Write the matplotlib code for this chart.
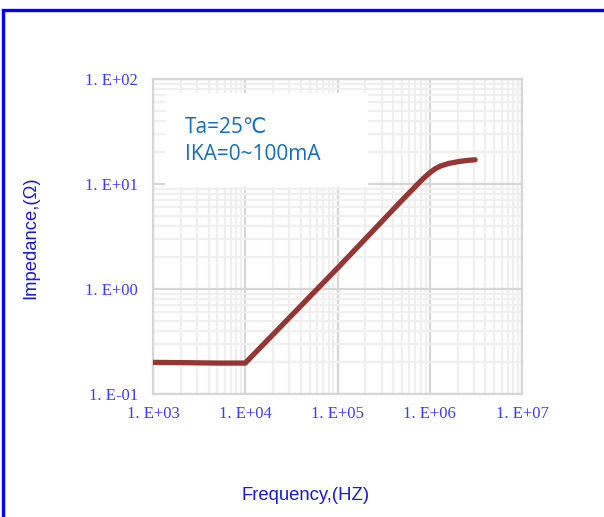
import matplotlib
matplotlib.use("Agg")
import matplotlib.pyplot as plt
from matplotlib.patches import Rectangle
from matplotlib.ticker import FixedLocator, NullFormatter, LogLocator

# Data
freq_hz = [1e3, 2e3, 5e3, 1e4, 1e5, 5e5, 8e5, 9e5, 1e6, 1.15e6, 1.3e6, 1.6e6, 2.1e6, 2.6e6, 3.1e6]
impedance_ohm = [0.200, 0.199, 0.197, 0.197, 1.58, 7.0, 10.7, 11.8, 12.8, 14.0, 14.8, 15.7, 16.4, 16.8, 17.0]
x_ticks = [1e3, 1e4, 1e5, 1e6, 1e7]
x_tick_labels = ["1. E+03", "1. E+04", "1. E+05", "1. E+06", "1. E+07"]
y_ticks = [1e-1, 1e0, 1e1, 1e2]
y_tick_labels = ["1. E-01", "1. E+00", "1. E+01", "1. E+02"]
note_lines = ["Ta=25℃", "IKA=0~100mA"]
x_label = "Frequency,(HZ)"
y_label = "Impedance,(Ω)"

W, H = 604, 517
fig = plt.figure(figsize=(W / 100, H / 100), dpi=100)

# blue frame
fig.patches.append(Rectangle((3 / W, -0.1), 1.2, 1 - 10 / H + 0.1, transform=fig.transFigure,
                             fill=False, edgecolor="#0000ff", linewidth=2.4))

ax = fig.add_axes([153 / W, 1 - 394 / H, 369 / W, 315 / H])
ax.set_xscale("log")
ax.set_yscale("log")
ax.set_xlim(1e3, 1e7)
ax.set_ylim(1e-1, 1e2)

ax.xaxis.set_major_locator(FixedLocator(x_ticks))
ax.yaxis.set_major_locator(FixedLocator(y_ticks))
ax.xaxis.set_minor_locator(LogLocator(base=10, subs=range(2, 10)))
ax.yaxis.set_minor_locator(LogLocator(base=10, subs=range(2, 10)))
ax.xaxis.set_minor_formatter(NullFormatter())
ax.yaxis.set_minor_formatter(NullFormatter())
ax.set_xticklabels(x_tick_labels)
ax.set_yticklabels(y_tick_labels)

ax.grid(which="minor", color="#efefef", linewidth=1.6)
ax.grid(which="major", color="#d6d6d6", linewidth=1.6)
ax.set_axisbelow(True)
for s in ax.spines.values():
    s.set_color("#d6d6d6")
    s.set_linewidth(1.6)
ax.tick_params(which="both", length=0)
ax.tick_params(axis="x", pad=9)
ax.tick_params(axis="y", pad=11)
for lab in ax.get_xticklabels() + ax.get_yticklabels():
    lab.set_fontfamily("Liberation Serif")
    lab.set_fontsize(12)
    lab.set_color("#3a3aff")

ax.plot(freq_hz, impedance_ohm, color="#943634", linewidth=3.8, solid_capstyle="round",
        solid_joinstyle="round", zorder=3)

# note box
ax.add_patch(Rectangle((165 / W, 1 - 187 / H), 203 / W, 94 / H, transform=fig.transFigure,
                       facecolor="white", edgecolor="none", zorder=2))
fig.text(185 / W, 1 - 133 / H, note_lines[0], fontsize=15, color="#1070c0",
         family=["Open Sans", "DejaVu Sans"], va="baseline", zorder=4)
fig.text(185 / W, 1 - 160 / H, note_lines[1], fontsize=15, color="#1070c0",
         family=["Open Sans", "DejaVu Sans"], va="baseline", zorder=4)

fig.text(306 / W, 1 - 495 / H, x_label, fontsize=13.3, color="#1a1ad0",
         family="Liberation Sans", ha="center", va="center")
fig.text(31 / W, 1 - 238 / H, y_label, fontsize=13.3, color="#1a1ad0",
         family="Liberation Sans", ha="center", va="center", rotation=90)

fig.savefig("out.png", dpi=100)
